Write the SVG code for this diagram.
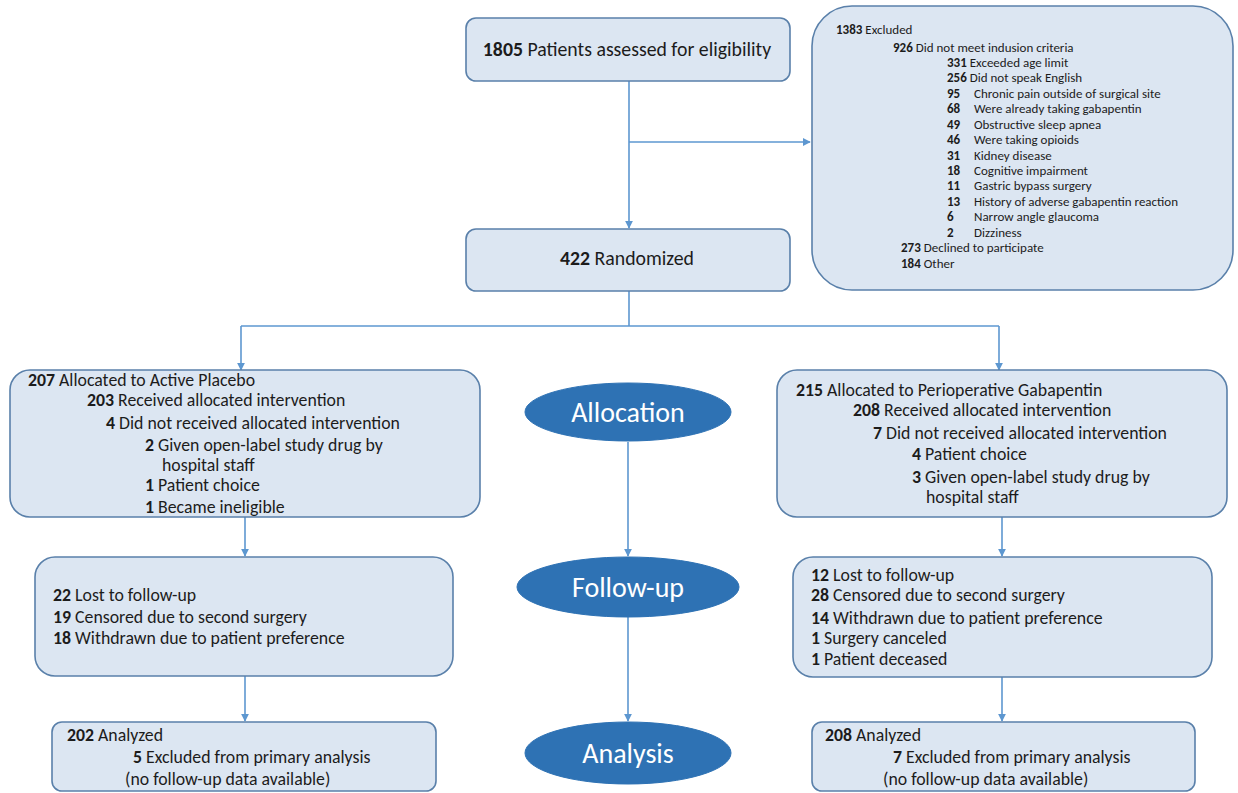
<svg xmlns="http://www.w3.org/2000/svg" width="1238" height="793" viewBox="0 0 1238 793">
<defs>
<style>
.box{fill:#dce6f2;stroke:#5a80aa;stroke-width:1.6}
.ell{fill:#2e72b4;stroke:#2e72b4}
.ln{fill:none;stroke:#5d97d0;stroke-width:1.6}
text{font-family:Carlito,Lato,"Liberation Sans",sans-serif;fill:#1c1c1c}
.t{font-size:17.8px}
.s{font-size:13px}
.big{font-size:19.8px}
.e{font-size:28px;fill:#ffffff;text-anchor:middle}
.b{font-weight:bold}
</style>
<marker id="arr" viewBox="0 0 10 10" refX="9" refY="5" markerWidth="8" markerHeight="8" markerUnits="userSpaceOnUse" orient="auto">
<path d="M0,0 L10,5 L0,10 z" fill="#5d97d0"/>
</marker>
</defs>
<rect width="1238" height="793" fill="#ffffff"/>

<g id="connectors">
<path class="ln" d="M629,81 V228" marker-end="url(#arr)"/>
<path class="ln" d="M629,142 H810" marker-end="url(#arr)"/>
<path class="ln" d="M629,291 V326"/>
<path class="ln" d="M241,326 H999"/>
<path class="ln" d="M241,326 V370" marker-end="url(#arr)"/>
<path class="ln" d="M999,326 V370" marker-end="url(#arr)"/>
<path class="ln" d="M245,517 V556" marker-end="url(#arr)"/>
<path class="ln" d="M245,676 V721" marker-end="url(#arr)"/>
<path class="ln" d="M1002,517 V556" marker-end="url(#arr)"/>
<path class="ln" d="M1002,677 V721" marker-end="url(#arr)"/>
<path class="ln" d="M628,442 V556" marker-end="url(#arr)"/>
<path class="ln" d="M628,617 V721" marker-end="url(#arr)"/>
</g>

<g id="assessed">
<rect class="box" x="466" y="18" width="324" height="63" rx="10"/>
<text class="big" x="627" y="56" text-anchor="middle"><tspan class="b">1805</tspan> Patients assessed for eligibility</text>
</g>

<g id="randomized">
<rect class="box" x="466" y="229" width="324" height="62" rx="10"/>
<text class="big" x="627" y="265" text-anchor="middle"><tspan class="b">422</tspan> Randomized</text>
</g>

<g id="excluded">
<rect class="box" x="812" y="6" width="421" height="284" rx="40"/>
<text class="s" x="836" y="34"><tspan class="b">1383</tspan> Excluded</text>
<text class="s" x="893" y="52"><tspan class="b">926</tspan> Did not meet indusion criteria</text>
<text class="s" x="947" y="67"><tspan class="b">331</tspan> Exceeded age limit</text>
<text class="s" x="947" y="82"><tspan class="b">256</tspan> Did not speak English</text>
<text class="s" x="947" y="98"><tspan class="b">95</tspan></text><text class="s" x="974" y="98">Chronic pain outside of surgical site</text>
<text class="s" x="947" y="113"><tspan class="b">68</tspan></text><text class="s" x="974" y="113">Were already taking gabapentin</text>
<text class="s" x="947" y="129"><tspan class="b">49</tspan></text><text class="s" x="974" y="129">Obstructive sleep apnea</text>
<text class="s" x="947" y="144"><tspan class="b">46</tspan></text><text class="s" x="974" y="144">Were taking opioids</text>
<text class="s" x="947" y="160"><tspan class="b">31</tspan></text><text class="s" x="974" y="160">Kidney disease</text>
<text class="s" x="947" y="175"><tspan class="b">18</tspan></text><text class="s" x="974" y="175">Cognitive impairment</text>
<text class="s" x="947" y="190"><tspan class="b">11</tspan></text><text class="s" x="974" y="190">Gastric bypass surgery</text>
<text class="s" x="947" y="206"><tspan class="b">13</tspan></text><text class="s" x="974" y="206">History of adverse gabapentin reaction</text>
<text class="s" x="947" y="221"><tspan class="b">6</tspan></text><text class="s" x="974" y="221">Narrow angle glaucoma</text>
<text class="s" x="947" y="237"><tspan class="b">2</tspan></text><text class="s" x="974" y="237">Dizziness</text>
<text class="s" x="901" y="252"><tspan class="b">273</tspan> Declined to participate</text>
<text class="s" x="901" y="268"><tspan class="b">184</tspan> Other</text>
</g>

<g id="placebo-alloc">
<rect class="box" x="10" y="370" width="470" height="147" rx="20"/>
<text class="t" x="28" y="386"><tspan class="b">207</tspan> Allocated to Active Placebo</text>
<text class="t" x="87" y="406"><tspan class="b">203</tspan> Received allocated intervention</text>
<text class="t" x="106" y="429"><tspan class="b">4</tspan> Did not received allocated intervention</text>
<text class="t" x="145" y="451"><tspan class="b">2</tspan> Given open-label study drug by</text>
<text class="t" x="162" y="471">hospital staff</text>
<text class="t" x="145" y="491"><tspan class="b">1</tspan> Patient choice</text>
<text class="t" x="145" y="513"><tspan class="b">1</tspan> Became ineligible</text>
</g>

<g id="gaba-alloc">
<rect class="box" x="777" y="370" width="450" height="147" rx="20"/>
<text class="t" x="796" y="396"><tspan class="b">215</tspan> Allocated to Perioperative Gabapentin</text>
<text class="t" x="853" y="416"><tspan class="b">208</tspan> Received allocated intervention</text>
<text class="t" x="873" y="439"><tspan class="b">7</tspan> Did not received allocated intervention</text>
<text class="t" x="912" y="460"><tspan class="b">4</tspan> Patient choice</text>
<text class="t" x="912" y="483"><tspan class="b">3</tspan> Given open-label study drug by</text>
<text class="t" x="926" y="503">hospital staff</text>
</g>

<g id="placebo-follow">
<rect class="box" x="35" y="557" width="418" height="119" rx="20"/>
<text class="t" x="53" y="601"><tspan class="b">22</tspan> Lost to follow-up</text>
<text class="t" x="53" y="623"><tspan class="b">19</tspan> Censored due to second surgery</text>
<text class="t" x="53" y="644"><tspan class="b">18</tspan> Withdrawn due to patient preference</text>
</g>

<g id="gaba-follow">
<rect class="box" x="793" y="557" width="419" height="120" rx="20"/>
<text class="t" x="811" y="581"><tspan class="b">12</tspan> Lost to follow-up</text>
<text class="t" x="811" y="601"><tspan class="b">28</tspan> Censored due to second surgery</text>
<text class="t" x="811" y="624"><tspan class="b">14</tspan> Withdrawn due to patient preference</text>
<text class="t" x="811" y="644"><tspan class="b">1</tspan> Surgery canceled</text>
<text class="t" x="811" y="665"><tspan class="b">1</tspan> Patient deceased</text>
</g>

<g id="placebo-analysis">
<rect class="box" x="52" y="722" width="384" height="69" rx="10"/>
<text class="t" x="67" y="741"><tspan class="b">202</tspan> Analyzed</text>
<text class="t" x="133" y="763"><tspan class="b">5</tspan> Excluded from primary analysis</text>
<text class="t" x="125" y="785">(no follow-up data available)</text>
</g>

<g id="gaba-analysis">
<rect class="box" x="812" y="722" width="383" height="69" rx="10"/>
<text class="t" x="825" y="741"><tspan class="b">208</tspan> Analyzed</text>
<text class="t" x="893" y="763"><tspan class="b">7</tspan> Excluded from primary analysis</text>
<text class="t" x="883" y="785">(no follow-up data available)</text>
</g>

<g id="allocation">
<ellipse class="ell" cx="628" cy="412" rx="103" ry="29"/>
<text class="e" x="628" y="422">Allocation</text>
</g>
<g id="followup">
<ellipse class="ell" cx="628" cy="587" rx="111" ry="30"/>
<text class="e" x="628" y="597">Follow-up</text>
</g>
<g id="analysis">
<ellipse class="ell" cx="628" cy="753" rx="103" ry="31"/>
<text class="e" x="628" y="763">Analysis</text>
</g>
</svg>
